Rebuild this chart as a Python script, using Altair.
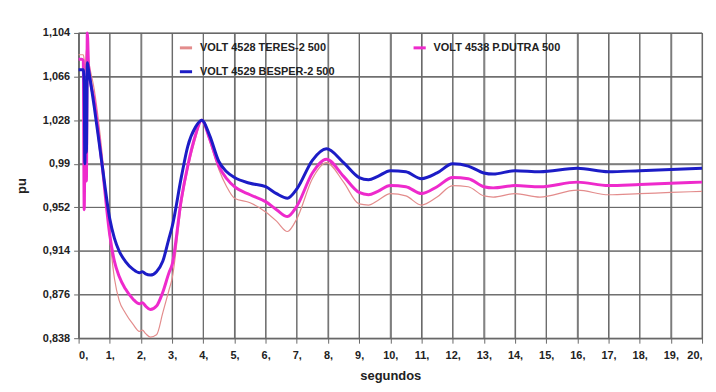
import altair as alt
import pandas as pd

# time (s)
t = [0, 0.1, 0.15, 0.18, 0.2, 0.22, 0.25, 0.28, 0.32, 0.5, 0.75, 1.0, 1.15, 1.3, 1.5, 1.75,
     1.95, 2.05, 2.15, 2.3, 2.5, 2.7, 2.9, 3.0, 3.3, 3.5, 3.75, 3.95, 4.2, 4.5, 4.75, 5.0,
     5.5, 6.0, 6.35, 6.7, 7.0, 7.5, 7.95, 8.5, 9.0, 9.3, 9.6, 10.0, 10.5, 11.0, 11.5, 12.0,
     12.5, 13.0, 13.3, 14.0, 14.8, 16.0, 17.0, 18.0, 19.0, 20.0]

teres = [1.085, 1.085, 1.085, 1.080, 1.070, 1.075, 1.090, 1.088, 1.080, 1.055, 1.000, 0.925,
         0.890, 0.871, 0.860, 0.850, 0.844, 0.845, 0.842, 0.839, 0.841, 0.860, 0.880, 0.890,
         0.955, 0.985, 1.012, 1.028, 1.010, 0.985, 0.970, 0.960, 0.956, 0.948, 0.940, 0.931,
         0.942, 0.977, 0.991, 0.974, 0.955, 0.954, 0.958, 0.964, 0.962, 0.954, 0.961, 0.971,
         0.970, 0.962, 0.961, 0.964, 0.961, 0.967, 0.963, 0.964, 0.965, 0.966]

pdutra = [1.081, 1.081, 1.080, 0.950, 1.000, 1.060, 0.975, 1.104, 1.075, 1.045, 0.990, 0.928,
          0.905, 0.892, 0.881, 0.872, 0.868, 0.869, 0.866, 0.863, 0.866, 0.878, 0.895, 0.902,
          0.960, 0.988, 1.015, 1.028, 1.012, 0.988, 0.977, 0.970, 0.963, 0.957, 0.950, 0.944,
          0.953, 0.982, 0.994, 0.979, 0.965, 0.963, 0.966, 0.971, 0.970, 0.964, 0.970, 0.978,
          0.977, 0.970, 0.969, 0.971, 0.970, 0.974, 0.971, 0.972, 0.973, 0.974]

besper = [1.072, 1.072, 1.072, 1.060, 0.990, 1.040, 1.000, 1.078, 1.072, 1.040, 0.990, 0.942,
          0.925, 0.914, 0.905, 0.898, 0.895, 0.896, 0.894, 0.893, 0.896, 0.905, 0.925, 0.935,
          0.979, 1.005, 1.022, 1.028, 1.015, 0.992, 0.983, 0.978, 0.973, 0.970, 0.964, 0.960,
          0.968, 0.993, 1.003, 0.991, 0.978, 0.976, 0.979, 0.984, 0.983, 0.977, 0.982, 0.990,
          0.988, 0.982, 0.981, 0.984, 0.983, 0.986, 0.983, 0.984, 0.985, 0.986]

names = ["VOLT 4528 TERES-2  500", "VOLT 4538 P.DUTRA  500", "VOLT 4529 BESPER-2 500"]
series_values = [teres, pdutra, besper]
colors = ["#e38c8c", "#ee2acc", "#1c1cc6"]
widths = [1.2, 3, 3]
# legend is laid out column by column: TERES, BESPER | P.DUTRA
legend_order = [0, 2, 1]
y_ticks = [0.838, 0.876, 0.914, 0.952, 0.99, 1.028, 1.066, 1.104]
x_ticks = list(range(0, 21))

rows = []
for name, vals in zip(names, series_values):
    for ti, v in zip(t, vals):
        rows.append({"t": ti, "v": v, "serie": name})
df = pd.DataFrame(rows)

# grid lines built from the tick lists (two end points per line)
grid_rows = []
for xt in x_ticks:
    grid_rows.append({"t": xt, "v": y_ticks[0], "g": f"x{xt}", "o": 0})
    grid_rows.append({"t": xt, "v": y_ticks[-1], "g": f"x{xt}", "o": 1})
for yt in y_ticks:
    grid_rows.append({"t": x_ticks[0], "v": yt, "g": f"y{yt}", "o": 0})
    grid_rows.append({"t": x_ticks[-1], "v": yt, "g": f"y{yt}", "o": 1})
grid_df = pd.DataFrame(grid_rows)

dom = [names[i] for i in legend_order]
col_range = [colors[i] for i in legend_order]

font = "Liberation Sans"
grid_color = "dimgray"

xscale = alt.Scale(domain=[0, 20], nice=False)
yscale = alt.Scale(domain=[0.838, 1.104], nice=False, zero=False)

xaxis = alt.Axis(values=x_ticks, labelExpr="datum.value + ','", title="segundos",
                 grid=True, gridColor=grid_color, gridOpacity=1, gridWidth=1,
                 ticks=True, tickSize=5, tickColor=grid_color)
yaxis = alt.Axis(values=y_ticks, labelExpr="replace(format(datum.value, '.3~f'), '.', ',')",
                 title="pu", grid=True, gridColor=grid_color, gridOpacity=1, gridWidth=1,
                 ticks=True, tickSize=5, tickColor=grid_color)

legend = alt.Legend(title=None, orient="none", legendX=100, legendY=7,
                    columns=2, columnPadding=72, rowPadding=10,
                    symbolType="stroke", symbolSize=150, symbolStrokeWidth=3,
                    labelFont=font, labelFontSize=11, labelFontWeight="bold",
                    labelColor="#222", labelOffset=6, padding=0)

grid = alt.Chart(grid_df).mark_line(strokeWidth=1, interpolate="linear").encode(
    x=alt.X("t:Q", scale=xscale, axis=xaxis),
    y=alt.Y("v:Q", scale=yscale, axis=yaxis),
    detail="g:N",
    order="o:Q",
    color=alt.value(grid_color),
)

layers = [grid]
for name, w in zip(names, widths):
    layers.append(
        alt.Chart(df).transform_filter(alt.datum.serie == name)
        .mark_line(interpolate="monotone", strokeWidth=w)
        .encode(
            x=alt.X("t:Q", scale=xscale, axis=xaxis),
            y=alt.Y("v:Q", scale=yscale, axis=yaxis),
            color=alt.Color("serie:N", sort=dom,
                            scale=alt.Scale(domain=dom, range=col_range),
                            legend=legend),
        )
    )

chart = alt.layer(*layers).properties(
    width=627, height=307,
    padding={"left": 7, "top": 18, "right": 0, "bottom": 5},
).configure_view(stroke=grid_color).configure_axis(
    domainColor=grid_color, labelFont=font, labelFontSize=11, labelFontWeight="bold",
    labelColor="#222", titleFont=font, titleFontSize=13, titleFontWeight="bold",
    titleColor="#222",
).configure_axisY(labelPadding=4, titlePadding=14).configure_axisX(labelPadding=6, titlePadding=10)

chart.save("out.html", embed_options={"renderer": "svg", "actions": False})
